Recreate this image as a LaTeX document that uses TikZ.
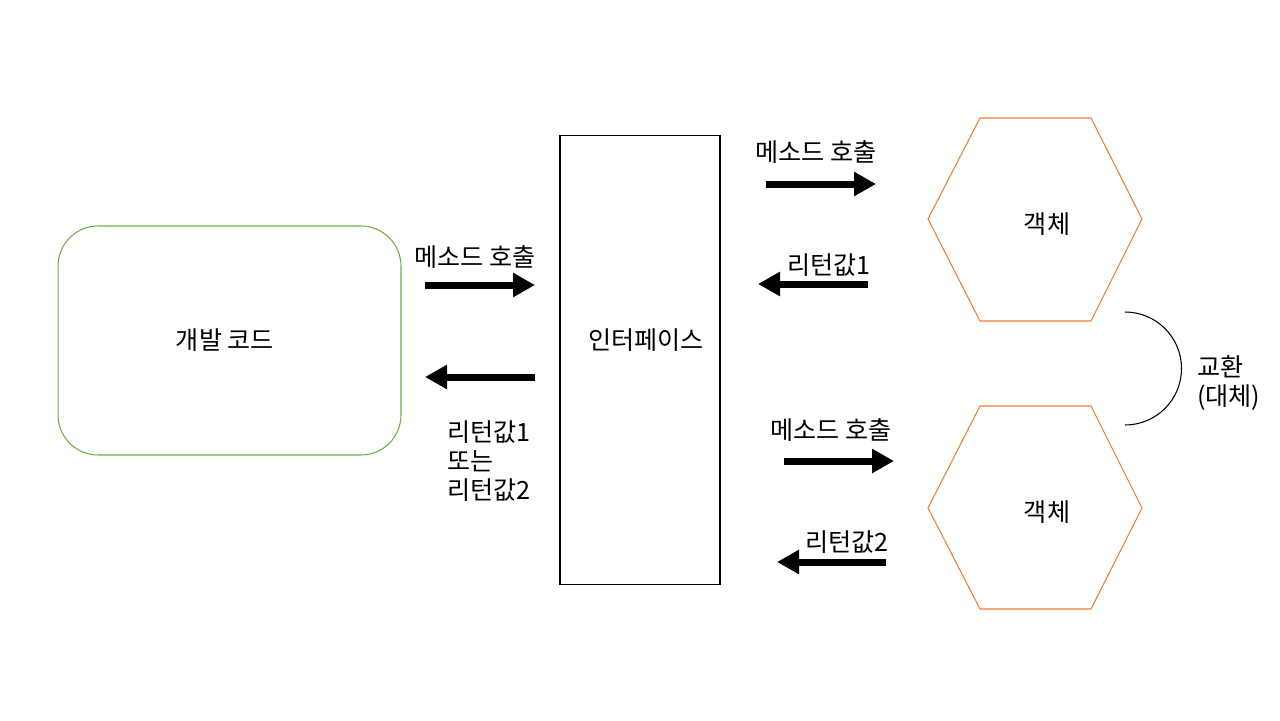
\documentclass[tikz,border=0pt]{standalone}
\usepackage{fontspec}
\setmainfont{Noto Sans CJK KR}
\usetikzlibrary{arrows.meta}

\begin{document}
\begin{tikzpicture}[x=0.02cm,y=-0.02cm,font=\fontsize{14.3}{16.7}\selectfont,
  fat/.style={line width=0.14cm,-{Triangle[length=0.44cm,width=0.46cm]}},
  hexa/.style={draw={rgb,255:red,237;green,125;blue,49},line width=0.6pt}]
\useasboundingbox (0,0) rectangle (1280,720);
% boxes
\node[draw={rgb,255:red,112;green,173;blue,71},line width=0.6pt,rounded corners=0.8cm,
  minimum width=6.86cm,minimum height=4.58cm] (code) at (229.5,340.5) {};
\node (codetxt) at (225,340) {개발 코드};
\node[draw,line width=0.6pt,minimum width=3.2cm,minimum height=9cm] (iface) at (640,360) {};
\node (ifacetxt) at (646,340) {인터페이스};
% objects
\draw[hexa] (928,219) -- (980,118) -- (1091,118) -- (1142,219) -- (1091,321) -- (980,321) -- cycle;
\node (obj1) at (1047,224) {객체};
\draw[hexa] (928,508) -- (980,406) -- (1091,406) -- (1142,508) -- (1091,609) -- (980,609) -- cycle;
\node (obj2) at (1047,512) {객체};
% swap
\coordinate (swtop) at (1125,312);
\draw[line width=0.6pt] (swtop) arc (-90:90:56.5) coordinate (swbot);
\node[align=left,anchor=west] (swap) at (1191,383) {교환\\(대체)};
% left side calls
\coordinate (c1a) at (425,285); \coordinate (c1b) at (535,285);
\draw[fat] (c1a) -- (c1b);
\node (call1) at (475,257) {메소드 호출};
\coordinate (r1a) at (535,377); \coordinate (r1b) at (425,377);
\draw[fat] (r1a) -- (r1b);
\node[align=left,anchor=west] (ret1) at (441,461) {리턴값1\\또는\\리턴값2};
% right side, first object
\coordinate (c2a) at (766,184); \coordinate (c2b) at (876,184);
\draw[fat] (c2a) -- (c2b);
\node (call2) at (816,152) {메소드 호출};
\coordinate (r2a) at (868,284); \coordinate (r2b) at (758,284);
\draw[fat] (r2a) -- (r2b);
\node (ret2) at (829,265) {리턴값1};
% right side, second object
\coordinate (c3a) at (784,461); \coordinate (c3b) at (894,461);
\draw[fat] (c3a) -- (c3b);
\node (call3) at (831,430) {메소드 호출};
\coordinate (r3a) at (886,562); \coordinate (r3b) at (777,562);
\draw[fat] (r3a) -- (r3b);
\node (ret3) at (847,542) {리턴값2};
\end{tikzpicture}
\end{document}
